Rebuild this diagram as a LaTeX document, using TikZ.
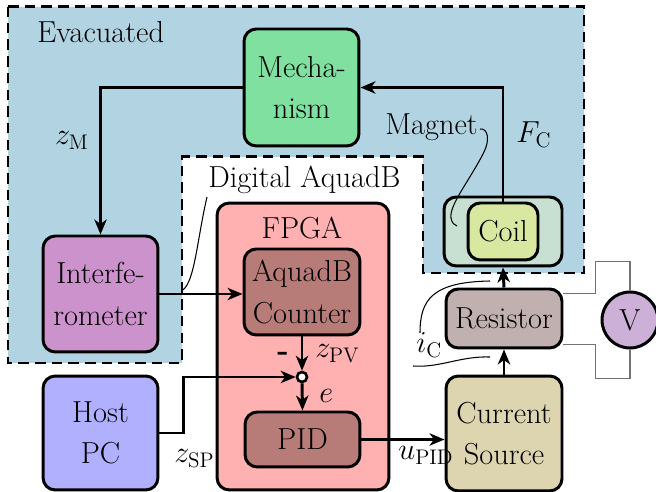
\documentclass[tikz,border=0pt]{standalone}
\usepackage{tikz}
\usetikzlibrary{calc,arrows.meta}

\definecolor{evacblue}{HTML}{B2D4E2}
\definecolor{mechgreen}{HTML}{80E0A0}
\definecolor{interfviolet}{HTML}{CC92CC}
\definecolor{fpgapink}{HTML}{FFB0B0}
\definecolor{blockbrown}{HTML}{B87C78}
\definecolor{hostblue}{HTML}{B0B0FF}
\definecolor{sourcekhaki}{HTML}{DDD4B0}
\definecolor{resistgray}{HTML}{C0B0B0}
\definecolor{meterlilac}{HTML}{CCB0D8}
\definecolor{magnetgreen}{HTML}{C8E0D2}
\definecolor{coilyellow}{HTML}{D8E8A0}

\newcommand{\varsub}[2]{$#1_{\mathrm{#2}}$}

\begin{document}
\begin{tikzpicture}[x=0.02cm,y=-0.02cm,
  font=\fontsize{17.3}{23.5}\selectfont, line width=1.7pt,
  >={Stealth[length=8.5pt,width=7pt,inset=2.5pt]},
  box/.style={draw,rounded corners=7pt,align=center,inner sep=0pt},
  evac/.style={draw,dash pattern=on 6pt off 3.5pt,fill=evacblue},
  wire/.style={draw=black!55,line width=0.9pt},
  leader/.style={line width=0.6pt}]
\useasboundingbox (0,0) rectangle (656,492);

% Evacuated chamber
\draw[evac] (8,7) -- (584,7) -- (584,273) -- (423,273) -- (423,157)
  -- (182,157) -- (182,363) -- (8,363) -- cycle;
\node[anchor=base west] (evaclbl) at (30,43) {Evacuated};
\node[anchor=base west] (diglbl) at (201,188) {Digital AquadB};

% Blocks
\node[box,fill=mechgreen,minimum width=2.3cm,minimum height=2.34cm] (mech) at (301.5,87.5) {Mecha-\\nism};
\node[box,fill=interfviolet,minimum width=2.3cm,minimum height=2.32cm] (interf) at (100.5,294) {Interfe-\\rometer};
\node[box,fill=hostblue,minimum width=2.3cm,minimum height=2.28cm] (host) at (100.5,433) {Host\\PC};
\node[box,fill=fpgapink,minimum width=3.44cm,minimum height=5.74cm] (fpga) at (303,346.5) {};
\node[anchor=base] (fpgalbl) at (302,239) {FPGA};
\node[box,fill=blockbrown,minimum width=2.32cm,minimum height=1.72cm] (counter) at (302,292) {AquadB\\Counter};
\node[draw,circle,fill=white,minimum size=0.2cm,inner sep=0pt,line width=1.5pt] (sum) at (302,377) {};
\node[box,fill=blockbrown,minimum width=2.3cm,minimum height=1.1cm] (pid) at (302.5,439.5) {PID};
\node[box,fill=magnetgreen,minimum width=2.36cm,minimum height=1.38cm] (magnet) at (503,231.5) {};
\node[box,fill=coilyellow,minimum width=1.4cm,minimum height=1.14cm] (coil) at (503,231.5) {Coil};
\node[box,fill=resistgray,minimum width=2.32cm,minimum height=1.18cm] (resistor) at (504,318.5) {Resistor};
\node[box,fill=sourcekhaki,minimum width=2.32cm,minimum height=2.3cm] (current) at (504,433.5) {Current\\Source};
\node[draw,circle,fill=meterlilac,minimum size=1.12cm,inner sep=0pt] (volt) at (630,320) {V};

% Signals
\draw[->] (mech.west) -| (interf.north);
\draw[->] (coil.north) |- (mech.east);
\draw[->] (interf.east) -- (interf.east -| counter.west);
\draw[->] (host.east) -- ++(24,0) |- (sum.west);
\draw[->] (pid.east) -- (pid.east -| current.west);
\foreach \a/\b in {counter/sum, sum/pid}
  \draw[->] (\a.south) -- (\b.north);
\foreach \a/\b in {current/resistor, resistor/magnet}
  \draw[->] (\a.north) -- (\b.south);

% Voltmeter leads
\draw[wire] ($(resistor.north east)+(0,6)$) -- ++(32,0) -- ++(0,-32) -| (volt.north);
\draw[wire] ($(resistor.south east)+(0,-5)$) -- ++(32,0) -- ++(0,34) -| (volt.south);

% Labels
\node[anchor=base east] (zm) at (96,145) {\varsub{z}{M}};
\node[anchor=base west] (fc) at (509,143) {\varsub{F}{C}};
\node[anchor=base west] (zpv) at (308,358) {\varsub{z}{PV}};
\node[anchor=base east] (minus) at (296,361) {\textbf{-}};
\node[anchor=base west] (err) at (312,403) {$e$};
\node[anchor=base west] (zsp) at (167,463) {\varsub{z}{SP}};
\node[anchor=base west] (upid) at (391,460) {\varsub{u}{PID}};
\node[anchor=base west] (ic) at (409,353) {\varsub{i}{C}};
\node[anchor=base west] (magnetlbl) at (378,135) {Magnet};

% Leader lines
\coordinate (digtip) at (183,290);
\coordinate (magtip) at (457,226);
\coordinate (ictop) at (490,281);
\coordinate (icbot) at (490,357);
\draw[leader] (207,197) .. controls (197,240) and (195,280) .. (digtip);
\draw[leader] (480,129) .. controls (488,128) and (490,140) .. (484,152)
  .. controls (470,180) and (449,205) .. (451,218) .. controls (452,223) and (454,225) .. (magtip);
\draw[leader] (420,333) .. controls (420,300) and (432,282) .. (ictop);
\draw[leader] (413,366) .. controls (440,368) and (460,356) .. (icbot);
\end{tikzpicture}
\end{document}
